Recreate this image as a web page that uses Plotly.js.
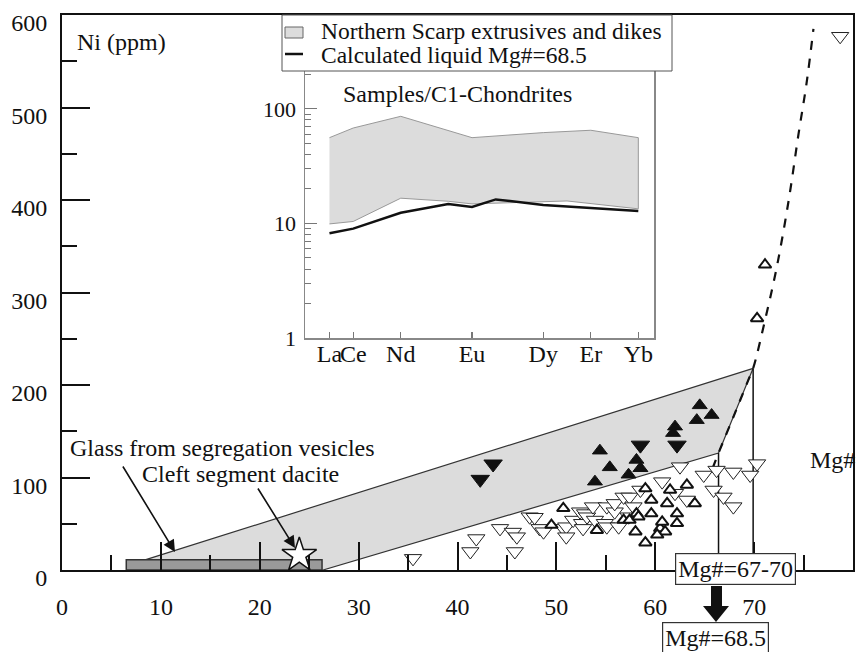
<!DOCTYPE html>
<html><head><meta charset="utf-8">
<script src="https://cdn.plot.ly/plotly-3.0.1.min.js"></script>
<style>html,body{margin:0;padding:0;background:#fff}#chart{width:858px;height:652px}</style>
</head><body><div id="chart"></div>
<script>
// ---------- Main diagram: Ni (ppm) vs Mg# ----------
const openDownX = [35.5,41.9,41.3,44.3,45.6,46.0,45.8,47.3,47.8,48.3,48.7,50.7,51.0,51.0,51.7,52.4,52.6,52.7,52.9,53.1,53.7,53.9,54.9,55.1,55.1,55.9,55.9,56.3,56.8,57.3,57.4,57.8,58.5,60.7,62.0,62.5,63.2,64.9,65.9,66.2,66.9,67.9,67.9,69.6,70.3,78.7];
const openDownY = [12.6,34,20,45,41,36,20,57.6,57,45,41.4,45,46.8,36,54,63,50.5,45,61,57.6,68.5,54,50.5,68.5,46.8,63,72,46.8,79,57.6,79,68.5,86.5,95.5,83,111.7,75.7,102.7,86.5,108,79,106,68.5,102.7,115,577];
const openUpX = [49.5,50.7,54.1,56.8,57.4,58.1,58.0,58.3,59.0,59.0,59.6,59.6,60.5,60.7,61.0,61.2,61.5,62.2,62.2,63.2,64.0,60.2,70.3,71.1];
const openUpY = [48.6,66.7,43,54,54,61,41.4,57.6,29.5,88,75.7,61,45,52,41.4,72,86.5,61,50.5,92,72,38,272,330];
const filledUpX = [53.9,54.4,55.4,57.3,58.1,58.5,61.8,62.0,64.2,64.5,65.7];
const filledUpY = [95.5,129,111,103,119,110,148,155,162,178,167.5];
const filledDownX = [42.3,43.6,58.5,62.2];
const filledDownY = [98,114.6,135,135];
const daciteX = [24.0];
const daciteY = [16];
const fieldX = [8.4,69.9,66.4,26.4,8.4];
const fieldY = [11,218,126.5,0,0];
const glassX = [6.5,26.3];
const glassY = [0,11];
const trendX = [65.8,66.4,68.0,69.4,69.9,71.1,72.3,73.5,74.5,75.3,76.0];
const trendY = [110,126.5,168,205,218,270,328,400,472,526,585];
const mgLimitX = [66.4,69.9];
const mgLimitTopY = [126.5,218];
const xTicks = [0,10,20,30,40,50,60,70,80];
const xMinor = [5,15,25,35,45,55,65,75];
const yTicks = [0,100,200,300,400,500,600];
const yMinor = [50,150,250,350,450,550];

// ---------- Inset: REE / C1 chondrite ----------
const reeLabels = ['La','Ce','Nd','Eu','Dy','Er','Yb'];
const reePos = [0,1,3,6,9,11,13];
const fieldUpperPos = [0,1,3,6,9,11,13];
const fieldUpper = [56,68,86,56,62,65,56];
const fieldLowerPos = [0,1,3,5,6,10,13];
const fieldLower = [9.9,10.4,16.6,15.6,14.8,15.7,13.4];
const liquidPos = [0,1,3,5,6,7,9,11,13];
const liquid = [8.2,9.0,12.4,14.8,13.9,16.2,14.5,13.7,12.8];
const insetYTicks = [1,10,100];
const insetYMinor = [2,3,4,5,6,7,8,9,20,30,40,50,60,70,80,90,200];

// ---------- geometry helpers (layout only) ----------
const W=858,H=652,L=62,R=5,T=15,B=82;
const pw=W-L-R, ph=H-T-B;
const XR=[0,80], YR=[0,600];
const pxp = p => (p-L)/pw;
const pyp = p => (H-B-p)/ph;
const px2x = p => XR[0]+(p-L)/pw*(XR[1]-XR[0]);
const py2y = p => YR[0]+(H-B-p)/ph*(YR[1]-YR[0]);

const FONT = 'Liberation Serif';
const INK = '#111';

const insetPolyX = fieldUpperPos.concat(fieldLowerPos.slice().reverse());
const insetPolyY = fieldUpper.concat(fieldLower.slice().reverse());

const traces = [
  {x: fieldX, y: fieldY, mode:'lines', fill:'toself', fillcolor:'#dcdcdc', line:{color:'#333', width:1.2}, showlegend:false, xaxis:'x', yaxis:'y'},
  {x: [glassX[0],glassX[1],glassX[1],glassX[0],glassX[0]], y:[glassY[0],glassY[0],glassY[1],glassY[1],glassY[0]], mode:'lines', fill:'toself', fillcolor:'#9a9a9a', line:{color:'#333', width:1.5}, showlegend:false},
  {x:[mgLimitX[0],mgLimitX[0]], y:[mgLimitTopY[0],0], mode:'lines', line:{color:INK,width:1.5}, showlegend:false},
  {x:[mgLimitX[1],mgLimitX[1]], y:[mgLimitTopY[1],0], mode:'lines', line:{color:INK,width:1.5}, showlegend:false},
  {x: trendX, y: trendY, mode:'lines', line:{color:INK, width:2.2, dash:'dash', shape:'spline'}, showlegend:false},
  {x: openDownX, y: openDownY, mode:'markers', marker:{symbol:'triangle-down', size:15, color:'#fff', line:{color:'#222', width:1}}, showlegend:false},
  {x: openUpX, y: openUpY, mode:'markers', marker:{symbol:'triangle-up', size:11, color:'#fff', line:{color:INK, width:2}}, showlegend:false},
  {x: filledDownX, y: filledDownY, mode:'markers', marker:{symbol:'triangle-down', size:16, color:INK, line:{color:INK, width:1}}, showlegend:false},
  {x: filledUpX, y: filledUpY, mode:'markers', marker:{symbol:'triangle-up', size:13, color:INK, line:{color:INK, width:1}}, showlegend:false},
  {x: daciteX, y: daciteY, mode:'markers', marker:{symbol:'star', size:26, color:'#fff', line:{color:INK, width:1.5}}, showlegend:false},
  // inset
  {x: insetPolyX, y: insetPolyY, mode:'lines', fill:'toself', fillcolor:'#dcdcdc', line:{color:'#999', width:1}, xaxis:'x2', yaxis:'y2', showlegend:false},
  {x: liquidPos, y: liquid, mode:'lines', line:{color:INK, width:2.5}, xaxis:'x2', yaxis:'y2', showlegend:false}
];

const ann = (text, xp, yp, extra) => Object.assign({text:text, xref:'paper', yref:'paper', x:pxp(xp), y:pyp(yp), showarrow:false, xanchor:'center', yanchor:'middle', font:{family:FONT, size:24, color:INK}}, extra||{});

const annotations = [
  ann('Ni (ppm)', 75, 42, {xanchor:'left'}),
  ann('Mg#', 808, 460, {xanchor:'left'}),
  ann('Samples/C1-Chondrites', 457, 94),
  ann('Northern Scarp extrusives and dikes', 319, 31, {xanchor:'left', font:{family:FONT, size:23.5, color:INK}}),
  ann('Calculated liquid Mg#=68.5', 319, 55, {xanchor:'left', font:{family:FONT, size:23.5, color:INK}}),
  ann('Glass from segregation vesicles', 222, 448),
  ann('Cleft segment dacite', 240, 474),
  {text:'', xref:'x', yref:'y', x:px2x(175), y:py2y(552), ax:-53, ay:-87, showarrow:true, arrowhead:2, arrowsize:1.5, arrowwidth:1.6, arrowcolor:INK, standoff:0, startstandoff:0},
  {text:'', xref:'x', yref:'y', x:px2x(295), y:py2y(548), ax:-38, ay:-61, showarrow:true, arrowhead:2, arrowsize:1.5, arrowwidth:1.6, arrowcolor:INK, standoff:0, startstandoff:0},
  ann('Mg#=67-70', 735, 569, {bgcolor:'#fff', bordercolor:'#333', borderwidth:1.2, borderpad:2}),
  ann('Mg#=68.5', 715, 638, {bgcolor:'#fff', bordercolor:'#333', borderwidth:1.2, borderpad:2})
];

const shapes = [
  // legend box
  {type:'rect', xref:'paper', yref:'paper', x0:pxp(282), x1:pxp(672), y0:pyp(15), y1:pyp(71), fillcolor:'#fff', line:{color:'#555', width:1}, layer:'above'},
  {type:'rect', xref:'paper', yref:'paper', x0:pxp(285), x1:pxp(303), y0:pyp(27), y1:pyp(38), fillcolor:'#dcdcdc', line:{color:'#666', width:1}, layer:'above'},
  {type:'line', xref:'paper', yref:'paper', x0:pxp(285), x1:pxp(303), y0:pyp(54), y1:pyp(54), line:{color:INK, width:2.5}, layer:'above'},
  // arrow between Mg# boxes
  {type:'rect', xref:'paper', yref:'paper', x0:pxp(711), x1:pxp(722), y0:pyp(586), y1:pyp(607), fillcolor:INK, line:{width:0}, layer:'above'},
  {type:'path', xref:'paper', yref:'paper', path:'M'+pxp(703)+','+pyp(606)+' L'+pxp(729)+','+pyp(606)+' L'+pxp(716)+','+pyp(622)+' Z', fillcolor:INK, line:{width:0}, layer:'above'}
];

const layout = {
  width:W, height:H,
  margin:{l:L, r:R, t:T, b:B, pad:0},
  paper_bgcolor:'#fff', plot_bgcolor:'#fff',
  showlegend:false,
  font:{family:FONT, size:24, color:INK},
  xaxis:{range:XR, tickmode:'array', tickvals:xTicks, ticks:'inside', ticklen:28, tickwidth:2, tickcolor:INK,
    minor:{tickmode:'array', tickvals:xMinor, ticks:'inside', ticklen:15, tickwidth:2, tickcolor:INK, showgrid:false},
    showline:true, linewidth:2, linecolor:INK, mirror:true, showgrid:false, zeroline:false,
    tickfont:{family:FONT, size:24, color:INK}, ticklabelstandoff:14},
  yaxis:{range:YR, tickmode:'array', tickvals:yTicks, ticks:'inside', ticklen:28, tickwidth:2, tickcolor:INK,
    minor:{tickmode:'array', tickvals:yMinor, ticks:'inside', ticklen:15, tickwidth:2, tickcolor:INK, showgrid:false},
    showline:true, linewidth:2, linecolor:INK, mirror:true, showgrid:false, zeroline:false,
    tickfont:{family:FONT, size:24, color:INK}, ticklabelstandoff:8, ticklabelshift:8},
  xaxis2:{domain:[pxp(305), pxp(654)], anchor:'y2', range:[-1.03,13.66], tickmode:'array', tickvals:reePos, ticktext:reeLabels,
    tickangle:0, ticks:'inside', ticklen:6, tickwidth:1.2, tickcolor:'#777', showline:true, linewidth:1.5, linecolor:'#888', mirror:true,
    showgrid:false, zeroline:false, tickfont:{family:FONT, size:24, color:INK}, ticklabelstandoff:-6},
  yaxis2:{domain:[pyp(338), pyp(71)], anchor:'x2', type:'log', range:[0,2.33], tickmode:'array', tickvals:insetYTicks, ticktext:['1','10','100'],
    ticks:'inside', ticklen:12, tickwidth:1.2, tickcolor:'#777',
    minor:{tickmode:'array', tickvals:insetYMinor, ticks:'inside', ticklen:6, tickwidth:1, tickcolor:'#777', showgrid:false},
    showline:true, linewidth:1.5, linecolor:'#888', mirror:true, showgrid:false, zeroline:false,
    tickfont:{family:FONT, size:22, color:INK}, ticklabelstandoff:3},
  annotations:annotations,
  shapes:shapes
};

Plotly.newPlot('chart', traces, layout, {displayModeBar:false, staticPlot:true});
</script>
</body></html>
